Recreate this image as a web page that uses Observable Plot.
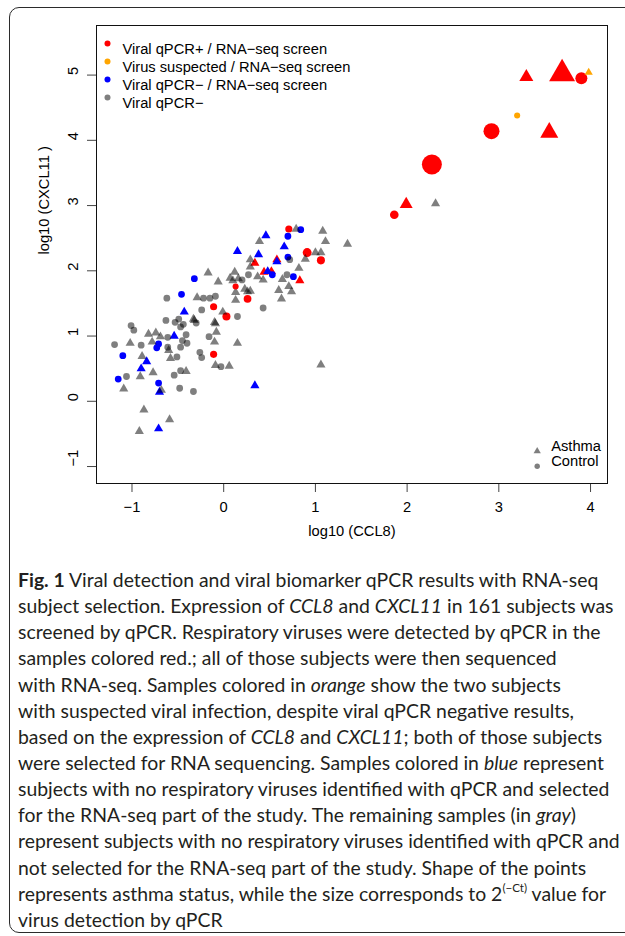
<!DOCTYPE html>
<html><head><meta charset="utf-8">
<script src="https://cdn.jsdelivr.net/npm/d3@7"></script>
<script src="https://cdn.jsdelivr.net/npm/@observablehq/plot@0.6"></script>
<style>
html,body{margin:0;padding:0;background:#fff;}
#wrap{position:relative;width:625px;height:936px;overflow:hidden;}
#border{position:absolute;left:9px;top:7px;width:700px;height:926px;border:1.5px solid #2b2b2b;border-radius:10px;box-sizing:border-box;}
#chart{position:absolute;left:0;top:0;}
#caption{position:absolute;left:18px;top:567px;font-family:Lato,'Open Sans',sans-serif;color:#231f20;font-size:19px;}
#caption .ln{white-space:nowrap;height:26.15px;line-height:26.15px;}
#caption .ln span.m{display:inline-block;}
#caption sup{font-size:0.6em;line-height:0;vertical-align:0.75em;}
</style></head>
<body>
<div id="wrap"><div id="border"></div><div id="chart"></div><div id="caption"></div></div>
<script>
// ---- data ----
const groupKeys = ["pos", "susp", "negSeq", "neg"];
const groupLabels = ["Viral qPCR+ / RNA\u2212seq screen", "Virus suspected / RNA\u2212seq screen", "Viral qPCR\u2212 / RNA\u2212seq screen", "Viral qPCR\u2212"];
const groupColors = ["#ff0000", "#ffa500", "#0000ff", "rgba(0,0,0,0.5)"];
const statusNames = {A: "Asthma", C: "Control"};

// Viral qPCR+ (red); signal = relative 2^(-Ct)
const posCCL8   = [3.30, 3.69, 3.90, 2.92, 3.55, 2.27, 1.99, 1.86, 0.71, 0.91, 1.06, 0.34, 0.44, 0.52, 0.58, 0.83, 0.13, 0.26, -0.11, 0.03, -0.11];
const posCXCL11 = [4.97, 5.02, 4.95, 4.14, 4.12, 3.63, 3.02, 2.86, 2.64, 2.28, 2.16, 2.12, 1.98, 1.99, 2.17, 1.85, 1.76, 1.57, 1.45, 1.30, 0.72];
const posStatus = ["A","A","C","C","A","C","A","C","C","C","C","A","A","A","A","A","C","C","C","C","C"];
const posSignal = [2.34, 8.05, 3.11, 5.54, 3.88, 8.65, 2.0, 1.6, 1.1, 1.7, 1.4, 1, 1, 1, 1, 1, 0.8, 1.3, 1.1, 1.4, 1.1];

// Virus suspected (orange)
const suspCCL8   = [3.20, 3.98];
const suspCXCL11 = [4.38, 5.04];
const suspStatus = ["C", "A"];

// Viral qPCR- / RNA-seq (blue)
const negSeqCCL8   = [0.46, 0.15, 0.38, 0.58, 0.66, 0.70, 0.84, 0.70, 0.53, 0.76, -0.32, -0.46, -0.43, -0.54, -0.71, -0.73, -1.10, -0.84, -0.90, -1.15, -0.71, -0.70, -0.71, 0.34, 0.48];
const negSeqCXCL11 = [2.54, 2.30, 2.25, 2.14, 2.37, 2.53, 2.63, 2.21, 1.94, 1.91, 1.88, 1.64, 1.37, 1.00, 0.88, 0.82, 0.70, 0.61, 0.50, 0.34, 0.28, 0.14, -0.42, 0.24, 1.99];
const negSeqStatus = ["A","A","A","A","A","C","C","C","C","C","C","C","A","A","C","C","C","A","A","C","C","A","A","A","A"];

// Viral qPCR- (gray)
const negCCL8 = [2.31, 0.79, 1.08, 1.11, 1.35, 1.00, 1.06, 0.89, 0.72, 0.82, 0.69, 0.64, 0.71, 0.60, 0.74, 0.63, 0.43, 1.06, 0.39, 0.29,
  0.29, -0.17, -0.06, 0.12, 0.07, 0.10, 0.20, 0.27, 0.37, 0.43, 0.23, 0.29, 0.13, 0.13, 0.26, -0.09, -0.15, -0.22, -0.29, -0.62,
  -0.24, -0.01, 0.15, -0.63, -0.53, -0.49, -0.33, -0.32, -0.30, -0.10, -0.09, -1.01, -0.98, -0.47, -0.44, -0.41, -0.40, -0.47, -0.61, -0.60,
  -0.82, -0.74, -0.69, -0.61, -0.78, -0.90, -1.02, -1.19, -0.89, -0.77, -0.91, -1.06, -1.09, -0.68, -0.48, -0.33, -0.87, -0.59, -0.92, -0.09,
  -0.03, 0.06, -0.47, -0.41, -0.54, -0.26, -0.24, -0.16, -0.08, -0.10, 0.15, -0.58, -0.51, -0.45, 0.16];
const negCXCL11 = [3.03, 2.64, 2.61, 2.45, 2.41, 2.28, 2.28, 2.18, 2.17, 2.04, 1.94, 1.87, 1.76, 1.70, 1.68, 1.57, 1.43, 0.56, 2.45, 2.17,
  2.06, 1.97, 1.83, 1.98, 1.89, 1.85, 1.86, 1.94, 1.91, 1.86, 1.72, 1.69, 1.67, 1.55, 1.68, 1.61, 1.58, 1.58, 1.59, 1.58,
  1.40, 1.37, 1.30, 1.24, 1.21, 1.26, 1.26, 1.24, 1.20, 1.21, 1.19, 1.16, 1.09, 1.14, 1.18, 1.02, 0.89, 0.83, 0.83, 0.78,
  1.03, 1.05, 0.99, 0.98, 0.91, 0.86, 0.89, 0.87, 0.69, 0.44, 0.38, 0.38, 0.19, 0.17, 0.20, 0.15, -0.13, -0.28, -0.46, 0.55,
  0.53, 0.54, 0.47, 0.46, 0.40, 0.75, 0.67, 0.99, 1.06, 0.91, 0.89, 0.66, 0.68, 0.93, 1.88];
const negStatus = ["A","A","A","A","A","A","A","A","C","A","C","A","A","A","A","A","C","A","A","A",
  "A","A","A","A","A","A","C","C","A","A","A","A","A","A","A","C","C","C","A","C",
  "C","A","C","C","C","C","A","A","C","A","A","C","C","C","C","C","C","C","C","A",
  "A","A","A","C","A","C","A","C","A","A","A","C","A","A","C","C","A","A","A","A",
  "C","A","C","A","C","C","C","C","A","A","A","A","C","C","A"];

const xTicks = [-1, 0, 1, 2, 3, 4];
const yTicks = [-1, 0, 1, 2, 3, 4, 5];
const xTitle = "log10 (CCL8)";
const yTitle = "log10 (CXCL11 )";
const statusLegend = ["Asthma", "Control"];

// ---- build rows ----
function rowsFor(group, xs, ys, st, sig) {
  return xs.map((x, i) => ({group, ccl8: x, cxcl11: ys[i], status: statusNames[st[i]], signal: sig ? sig[i] : (group === "susp" ? 0.8 : 1)}));
}
const rows = [
  ...rowsFor("pos", posCCL8, posCXCL11, posStatus, posSignal),
  ...rowsFor("susp", suspCCL8, suspCXCL11, suspStatus),
  ...rowsFor("negSeq", negSeqCCL8, negSeqCXCL11, negSeqStatus),
  ...rowsFor("neg", negCCL8, negCXCL11, negStatus)
];

const fmt = d => d < 0 ? "\u2212" + Math.abs(d) : String(d);
const legendMarks = [];
groupKeys.forEach((k, i) => {
  legendMarks.push(Plot.dot([k], {frameAnchor: "top-left", dx: 11, dy: 18 + 18 * i, r: 3, fill: d => d, symbol: "circle"}));
  legendMarks.push(Plot.text([groupLabels[i]], {frameAnchor: "top-left", dx: 26, dy: 18 + 18 * i, text: d => d, textAnchor: "start", fill: "#000"}));
});
statusLegend.forEach((s, i) => {
  legendMarks.push(Plot.dot([s], {frameAnchor: "bottom-right", dx: -70.3, dy: -32.3 + 15 * i, r: 2.7, symbol: d => d, fill: "rgba(0,0,0,0.5)"}));
  legendMarks.push(Plot.text([s], {frameAnchor: "bottom-right", dx: -56.3, dy: -32.3 + 15 * i, text: d => d, textAnchor: "start", fill: "#000"}));
});

const chart = Plot.plot({
  width: 625, height: 552,
  marginTop: 25, marginBottom: 69, marginLeft: 96, marginRight: 18,
  style: {fontFamily: "'Liberation Sans', Arial, Helvetica, sans-serif", fontSize: "14.7px", color: "#000", background: "transparent", overflow: "visible"},
  x: {domain: [-1.387, 4.185]},
  y: {domain: [-1.26, 5.76]},
  r: {type: "sqrt", domain: [0, 1], range: [0, 3.4]},
  symbol: {domain: ["Asthma", "Control"], range: ["triangle", "circle"]},
  color: {domain: groupKeys, range: groupColors},
  marks: [
    Plot.axisX({ticks: xTicks, tickSize: 9, tickPadding: 9.5, tickFormat: fmt, label: null, stroke: "#444", fill: "#000"}),
    Plot.axisY({ticks: yTicks, tickSize: 9, tickFormat: () => "", label: null, stroke: "#444"}),
    Plot.text(yTicks, {y: d => d, text: fmt, frameAnchor: "left", dx: -23.5, rotate: -90, fill: "#000"}),
    Plot.text([xTitle], {frameAnchor: "bottom", dy: 52, text: d => d, fill: "#000"}),
    Plot.text([yTitle], {frameAnchor: "left", dx: -52, rotate: -90, text: d => d, fill: "#000"}),
    Plot.dot(rows, {x: "ccl8", y: "cxcl11", r: "signal", symbol: "status", fill: "group", stroke: "none"}),
    ...legendMarks,
    Plot.frame({stroke: "#111", strokeWidth: 1})
  ]
});
document.getElementById("chart").appendChild(chart);

// ---- caption ----
const captionLines = [
  "<b>Fig. 1</b> Viral detection and viral biomarker qPCR results with RNA-seq",
  "subject selection. Expression of <i>CCL8</i> and <i>CXCL11</i> in 161 subjects was",
  "screened by qPCR. Respiratory viruses were detected by qPCR in the",
  "samples colored red.; all of those subjects were then sequenced",
  "with RNA-seq. Samples colored in <i>orange</i> show the two subjects",
  "with suspected viral infection, despite viral qPCR negative results,",
  "based on the expression of <i>CCL8</i> and <i>CXCL11</i>; both of those subjects",
  "were selected for RNA sequencing. Samples colored in <i>blue</i> represent",
  "subjects with no respiratory viruses identified with qPCR and selected",
  "for the RNA-seq part of the study. The remaining samples (in <i>gray</i>)",
  "represent subjects with no respiratory viruses identified with qPCR and",
  "not selected for the RNA-seq part of the study. Shape of the points",
  "represents asthma status, while the size corresponds to 2<sup>(\u2212Ct)</sup> value for",
  "virus detection by qPCR"
];
const cap = document.getElementById("caption");
cap.innerHTML = captionLines.map(l => `<div class="ln"><span class="m">${l}</span></div>`).join("");
const ref = cap.querySelectorAll("span.m")[1];
const w = ref.getBoundingClientRect().width;
cap.style.fontSize = (19 * 596 / w) + "px";
</script>
</body></html>
